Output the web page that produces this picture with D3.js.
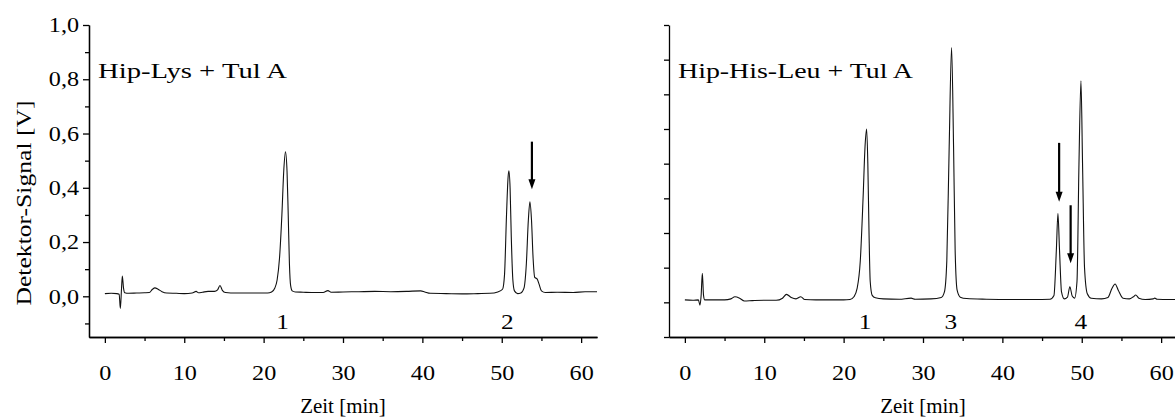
<!DOCTYPE html>
<html>
<head>
<meta charset="utf-8">
<script src="https://cdn.jsdelivr.net/npm/d3@7"></script>
<style>
body { margin: 0; background: #fff; }
text { font-family: "Liberation Serif", serif; fill: #000; }
</style>
</head>
<body>
<div id="chart"></div>
<script>
// Hip-Lys + Tul A (left panel), time [min] and signal [V]
var leftTime = [0, 0.8, 1.5, 1.8, 1.95, 2.1, 2.2, 2.35, 2.5, 3, 4, 5, 5.6, 6, 6.3, 6.7, 7.2, 7.8, 9, 10,
    11, 11.5, 11.8, 12.3, 13, 13.8, 14.2, 14.5, 14.8, 15.2, 16.5, 18, 19.5, 20.5, 21, 21.4, 21.7, 22, 22.3, 22.55,
    22.75, 22.95, 23.1, 23.25, 23.4, 23.6, 24, 25, 26, 27.5, 28.1, 28.5, 30, 32, 34, 36, 38, 39.8, 40.3, 41,
    43, 45, 47, 48.5, 49.5, 50.1, 50.35, 50.6, 50.8, 50.9, 51.05, 51.2, 51.4, 51.6, 52, 52.4, 52.8, 53.1, 53.35, 53.55,
    53.75, 53.95, 54.15, 54.45, 54.7, 55, 55.5, 57, 59, 60.5, 62];
var leftSignal = [0.010, 0.011, 0.010, 0.008, -0.045, 0.030, 0.075, 0.030, 0.013, 0.011, 0.012, 0.013, 0.014, 0.026, 0.031, 0.026, 0.017, 0.012, 0.011, 0.010,
    0.012, 0.018, 0.013, 0.015, 0.018, 0.018, 0.024, 0.040, 0.022, 0.014, 0.012, 0.012, 0.012, 0.012, 0.016, 0.030, 0.060, 0.140, 0.300, 0.470,
    0.533, 0.460, 0.300, 0.120, 0.040, 0.020, 0.016, 0.015, 0.014, 0.014, 0.021, 0.015, 0.016, 0.017, 0.018, 0.017, 0.018, 0.020, 0.016, 0.011,
    0.010, 0.009, 0.010, 0.011, 0.016, 0.026, 0.080, 0.300, 0.440, 0.463, 0.400, 0.220, 0.060, 0.020, 0.010, 0.012, 0.030, 0.120, 0.280, 0.348,
    0.280, 0.140, 0.070, 0.064, 0.045, 0.020, 0.014, 0.015, 0.014, 0.017, 0.017];

// Hip-His-Leu + Tul A (right panel)
var rightTime = [0, 1, 1.7, 1.9, 2.05, 2.2, 2.35, 2.5, 3.5, 5, 5.8, 6.3, 6.9, 7.5, 8.5, 10, 11.5, 12.3, 12.8, 13.4,
    14, 14.6, 15.1, 16.5, 18, 20, 20.8, 21.3, 21.7, 22.1, 22.45, 22.7, 22.9, 23.05, 23.2, 23.35, 23.6, 24, 25, 27,
    28.5, 29, 31, 32.3, 32.7, 33, 33.3, 33.6, 33.85, 34.05, 34.3, 34.7, 35.5, 38, 41, 44, 46, 46.5, 46.8, 47,
    47.2, 47.45, 47.8, 48.2, 48.5, 48.8, 49.1, 49.4, 49.65, 49.9, 50.1, 50.35, 50.7, 51.2, 52.5, 53.3, 53.8, 54.2, 54.6, 55.2,
    56, 56.5, 56.8, 57.2, 58, 59, 59.2, 59.5, 61, 62];
var rightSignal = [0.007, 0.006, 0.007, -0.008, 0.020, 0.084, 0.020, 0.007, 0.007, 0.007, 0.010, 0.016, 0.012, 0.004, 0.005, 0.006, 0.006, 0.012, 0.023, 0.014,
    0.010, 0.016, 0.008, 0.007, 0.007, 0.007, 0.008, 0.016, 0.040, 0.120, 0.300, 0.450, 0.500, 0.400, 0.200, 0.060, 0.020, 0.013, 0.010, 0.009,
    0.012, 0.009, 0.010, 0.014, 0.030, 0.120, 0.450, 0.735, 0.450, 0.150, 0.035, 0.015, 0.011, 0.009, 0.008, 0.008, 0.009, 0.020, 0.150, 0.256,
    0.150, 0.030, 0.010, 0.015, 0.045, 0.018, 0.012, 0.060, 0.400, 0.639, 0.400, 0.100, 0.025, 0.012, 0.010, 0.014, 0.040, 0.053, 0.035, 0.012,
    0.010, 0.016, 0.021, 0.012, 0.008, 0.010, 0.012, 0.009, 0.008, 0.008];

// arrows (time, top value, tip value)
var leftArrowTime = [53.8];
var leftArrowTop = [0.570];
var leftArrowTip = [0.395];
var rightArrowTime = [47.15, 48.6];
var rightArrowTop = [0.460, 0.280];
var rightArrowTip = [0.290, 0.113];

// peak numbers
var leftPeakNames = ["1", "2"];
var leftPeakTime = [22.4, 50.7];
var rightPeakNames = ["1", "3", "4"];
var rightPeakTime = [22.7, 33.5, 49.9];

var xMajor = [0, 10, 20, 30, 40, 50, 60];
var xMinor = [5, 15, 25, 35, 45, 55];
var leftYMajor = [0, 0.2, 0.4, 0.6, 0.8, 1.0];
var leftYMinor = [-0.1, 0.1, 0.3, 0.5, 0.7, 0.9];
var rightYTicks = [-0.1, 0, 0.1, 0.2, 0.3, 0.4, 0.5, 0.6, 0.7, 0.8];

var de = d3.formatLocale({decimal: ",", thousands: ".", grouping: [3], currency: ["", " €"]});
var fmt = de.format(".1f");

var svg = d3.select("#chart")
    .append("svg")
    .attr("width", 1175)
    .attr("height", 418);

// the original font is wider than Times, stretch a bit
function widen(sel, k) {
    sel.each(function () {
        var w = this.getComputedTextLength();
        d3.select(this).attr("textLength", w * k).attr("lengthAdjust", "spacingAndGlyphs");
    });
}

function drawPanel(opt) {
    var x = d3.scaleLinear().domain([-2, 62]).range([opt.left, opt.left + 508]);
    var y = d3.scaleLinear().domain(opt.yDomain).range([337, 25]);

    var g = svg.append("g");

    // x axis, major + minor
    g.append("g")
        .attr("transform", "translate(0,337)")
        .call(d3.axisBottom(x).tickValues(xMajor).tickSize(6).tickSizeOuter(0).tickPadding(22).tickFormat(d3.format("d")));
    g.append("g")
        .attr("transform", "translate(0,337)")
        .call(d3.axisBottom(x).tickValues(xMinor).tickSize(4).tickSizeOuter(0).tickFormat(""));

    // y axis
    if (opt.yLabels) {
        g.append("g")
            .attr("transform", "translate(" + opt.left + ",0)")
            .call(d3.axisLeft(y).tickValues(leftYMajor).tickSize(6).tickSizeOuter(0).tickPadding(4).tickFormat(fmt));
        g.append("g")
            .attr("transform", "translate(" + opt.left + ",0)")
            .call(d3.axisLeft(y).tickValues(leftYMinor).tickSize(4).tickSizeOuter(0).tickFormat(""));
    } else {
        g.append("g")
            .attr("transform", "translate(" + opt.left + ",0)")
            .call(d3.axisLeft(y).tickValues(rightYTicks).tickSize(5).tickSizeOuter(0).tickFormat(""));
    }

    g.selectAll(".domain, .tick line").attr("stroke", "#000").attr("stroke-width", 1.3);
    g.selectAll(".tick text")
        .attr("font-size", 21)
        .attr("font-family", "Liberation Serif")
        .attr("fill", "#000")
        .call(widen, 1.15);

    // trace
    var pts = opt.time.map(function (t, i) { return [t, opt.signal[i]]; });
    var line = d3.line()
        .x(function (d) { return x(d[0]); })
        .y(function (d) { return y(d[1]); })
        .curve(d3.curveMonotoneX);
    g.append("path")
        .attr("d", line(pts))
        .attr("fill", "none")
        .attr("stroke", "#111")
        .attr("stroke-width", 1.1);

    // arrows
    opt.arrowTime.forEach(function (t, i) {
        var ax = x(t), top = y(opt.arrowTop[i]), tip = y(opt.arrowTip[i]);
        g.append("line")
            .attr("x1", ax).attr("x2", ax)
            .attr("y1", top).attr("y2", tip - 9)
            .attr("stroke", "#000").attr("stroke-width", 2.2);
        g.append("path")
            .attr("d", "M" + (ax - 3.5) + "," + (tip - 10) + "L" + (ax + 3.5) + "," + (tip - 10) + "L" + ax + "," + tip + "Z")
            .attr("fill", "#000");
    });

    // peak numbers
    g.selectAll(".peak")
        .data(opt.peakNames)
        .enter().append("text")
        .attr("x", function (d, i) { return x(opt.peakTime[i]); })
        .attr("y", 329)
        .attr("text-anchor", "middle")
        .attr("font-size", 22)
        .text(function (d) { return d; })
        .call(widen, 1.15);

    // title inside the panel
    g.append("text")
        .attr("x", opt.left + 9)
        .attr("y", 78)
        .attr("font-size", 22)
        .attr("textLength", opt.titleWidth)
        .attr("lengthAdjust", "spacingAndGlyphs")
        .text(opt.title);

    // x label
    g.append("text")
        .attr("x", x(30))
        .attr("y", 413)
        .attr("text-anchor", "middle")
        .attr("font-size", 21)
        .text("Zeit [min]")
        .call(widen, 1.0);
}

drawPanel({
    left: 89, yDomain: [-0.15, 1.0], yLabels: true,
    time: leftTime, signal: leftSignal,
    arrowTime: leftArrowTime, arrowTop: leftArrowTop, arrowTip: leftArrowTip,
    peakNames: leftPeakNames, peakTime: leftPeakTime,
    title: "Hip-Lys + Tul A", titleWidth: 189
});
drawPanel({
    left: 669, yDomain: [-0.1, 0.8], yLabels: false,
    time: rightTime, signal: rightSignal,
    arrowTime: rightArrowTime, arrowTop: rightArrowTop, arrowTip: rightArrowTip,
    peakNames: rightPeakNames, peakTime: rightPeakTime,
    title: "Hip-His-Leu + Tul A", titleWidth: 235
});

// y axis title
svg.append("text")
    .attr("transform", "translate(31,203) rotate(-90)")
    .attr("text-anchor", "middle")
    .attr("font-size", 22)
    .attr("textLength", 205)
    .attr("lengthAdjust", "spacingAndGlyphs")
    .text("Detektor-Signal [V]");
</script>
</body>
</html>
